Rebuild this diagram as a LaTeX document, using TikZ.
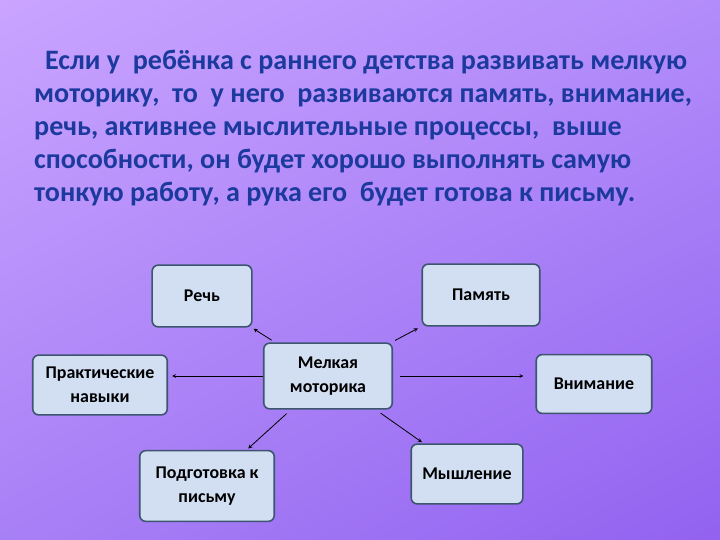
\documentclass[tikz,border=0pt]{standalone}
\usepackage{fontspec}
\setmainfont{Carlito}
\usetikzlibrary{shadings}
\definecolor{titleblue}{HTML}{1C3A9E}
\definecolor{boxfill}{HTML}{D2DEF2}
\definecolor{boxline}{HTML}{3C5670}
\definecolor{bgtl}{RGB}{202,164,255}
\definecolor{bgtr}{RGB}{178,140,250}
\definecolor{bgbl}{RGB}{168,128,246}
\definecolor{bgbr}{RGB}{146,98,240}
\tikzset{
  skill/.style = {draw = boxline, line width = 1.6pt, fill = boxfill,
    rounded corners = 6pt, align = center, font = \bfseries\fontsize{18}{24}\selectfont},
  link/.style = {->, line width = 0.8pt, >=stealth}
}
\begin{document}
\begin{tikzpicture}[x = 1bp, y = -1bp]
  \shade[upper left = bgtl, upper right = bgtr, lower left = bgbl, lower right = bgbr]
    (0, 0) rectangle (720, 540);
  \useasboundingbox (0, 0) rectangle (720, 540);

  \node[anchor = north west, align = left, text = titleblue, inner sep = 0pt,
        font = \bfseries\fontsize{28.2}{33}\selectfont] (T) at (34, 50) {
    \hspace{11pt}Если у~ ребёнка с раннего детства развивать мелкую\\
    моторику,~ то~ у него~ развиваются память, внимание,\\
    речь, активнее мыслительные процессы,~ выше\\
    способности, он будет хорошо выполнять самую\\
    тонкую работу, а рука его~ будет готова к письму.
  };

  \node[skill, minimum width = 129, minimum height = 66] (M) at (328, 376) {Мелкая\\моторика};
  \node[skill, minimum width = 100, minimum height = 62] (R) at (202, 296) {Речь};
  \node[skill, minimum width = 118, minimum height = 62] (P) at (481, 295) {Память};
  \node[skill, minimum width = 135, minimum height = 60] (N) at (100, 385) {Практические\\навыки};
  \node[skill, minimum width = 116, minimum height = 59] (V) at (594, 384) {Внимание};
  \node[skill, minimum width = 135, minimum height = 71] (G) at (207, 486) {Подготовка к\\письму};
  \node[skill, minimum width = 112, minimum height = 60] (D) at (467, 474) {Мышление};

  \draw[link, shorten <= 4pt, shorten >= 2pt] (M) -- (R);
  \draw[link, shorten <= 4pt, shorten >= 4pt] (M) -- (P);
  \draw[link, shorten >= 4pt] (M.west) -- (M.west -| N.east);
  \draw[link, shorten <= 7pt, shorten >= 12pt] (M.east) -- (M.east -| V.west);
  \draw[link, shorten <= 6pt, shorten >= 2pt] (M) -- (G);
  \draw[link, shorten <= 6pt, shorten >= 2pt] (M) -- (D);
\end{tikzpicture}
\end{document}
